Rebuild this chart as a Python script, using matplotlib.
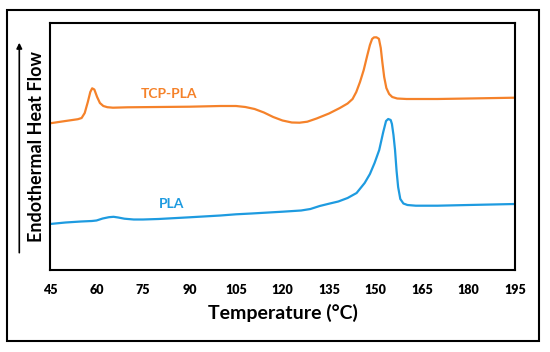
import matplotlib
matplotlib.use("Agg")
import matplotlib.pyplot as plt
from matplotlib.patches import Rectangle, FancyArrowPatch

plt.rcParams['font.family'] = ['Lato', 'DejaVu Sans']

tcp_temp = [45, 50, 54, 55.2, 56.2, 57.2, 58.0, 58.6, 59.3, 60.2, 61.1, 62.2, 63.5, 65.3, 70,
            80, 90, 100, 105, 108, 111, 114, 117, 120, 123, 125.5, 128, 131, 135, 138.5, 141,
            142.6, 143.8, 145, 146.2, 147.3, 148.2, 148.9, 149.5, 150.3, 151.1, 151.7, 152.2,
            152.8, 153.5, 154.4, 155.4, 157, 160, 170, 180, 195]
tcp_flow = [145.7, 148, 149.8, 151, 156, 167, 177, 180.7, 179.5, 172, 166, 163, 161.8, 161.3,
            161.7, 162, 162.3, 163, 163, 162, 160, 156.5, 152, 148.5, 146.5, 146.3, 147.3,
            150.5, 155.5, 161, 165.5, 170, 177, 187, 199, 213, 224, 230, 231.6, 231.7, 230.2,
            221, 207, 192, 181, 175, 172, 170.5, 170, 170, 170.5, 171.3]

pla_temp = [45, 50, 55, 58.5, 60, 62, 64, 65.5, 67, 69, 72, 75, 80, 90, 100, 105, 110, 120,
            126, 129, 132, 135, 138, 141, 143.9, 146.5, 148.2, 149.7, 151.2, 152.5, 153.4,
            154.1, 154.9, 155.3, 155.8, 156.3, 156.8, 157.3, 158, 159, 160.3, 163, 170, 180,
            195]
pla_flow = [45, 46.5, 47.5, 48, 48.5, 50.5, 51.8, 52.2, 51.5, 50.3, 49.5, 49.5, 50, 51.7,
            53.5, 54.7, 55.5, 57.3, 58.5, 60, 63, 65.3, 67.5, 71, 76, 86, 95, 106, 119, 137,
            148, 150, 149, 145, 134, 119, 98, 82, 70, 65.5, 64, 63.3, 63.3, 64, 65]

xticks = [45, 60, 75, 90, 105, 120, 135, 150, 165, 180, 195]

orange = '#F5822A'
blue = '#1E9BE0'

W, H = 550, 352
fig = plt.figure(figsize=(5.5, 3.52), dpi=100)
ax = fig.add_axes([50/W, 1-270/H, 465/W, 247/H])

ax.plot(tcp_temp, tcp_flow, color=orange, lw=1.6, solid_joinstyle='round')
ax.plot(pla_temp, pla_flow, color=blue, lw=1.6, solid_joinstyle='round')

ax.set_xlim(45, 195)
ax.set_ylim(-1, 246)
ax.set_xticks(xticks)
ax.set_xticklabels([str(t) for t in xticks], fontweight='heavy', fontsize=9)
ax.tick_params(axis='x', length=0, pad=10)
ax.set_yticks([])
for s in ax.spines.values():
    s.set_linewidth(1.5)
    s.set_color('black')

ax.text(83.5, 175, 'TCP-PLA', color=orange, fontsize=10, fontweight='bold', ha='center', va='center')
ax.text(84.3, 65, 'PLA', color=blue, fontsize=10, fontweight='bold', ha='center', va='center')

fig.text(282.5/W, 1-313.3/H, 'Temperature (°C)', fontsize=14, fontweight='bold',
         ha='center', va='center')
fig.text(36.7/W, 1-146.7/H, 'Endothermal Heat Flow', fontsize=13, fontweight='bold',
         ha='center', va='center', rotation=90)

arrow = FancyArrowPatch((19.3/W, 1-252.7/H), (19.3/W, 1-42.7/H), transform=fig.transFigure,
                        arrowstyle='-|>', mutation_scale=8, lw=1.2, color='black',
                        shrinkA=0, shrinkB=0)
fig.patches.append(arrow)

frame = Rectangle((7.3/W, 1-341/H), 532/W, 331/H, transform=fig.transFigure,
                  fill=False, lw=1.5, edgecolor='black')
fig.patches.append(frame)

fig.savefig('out.png', dpi=100)
